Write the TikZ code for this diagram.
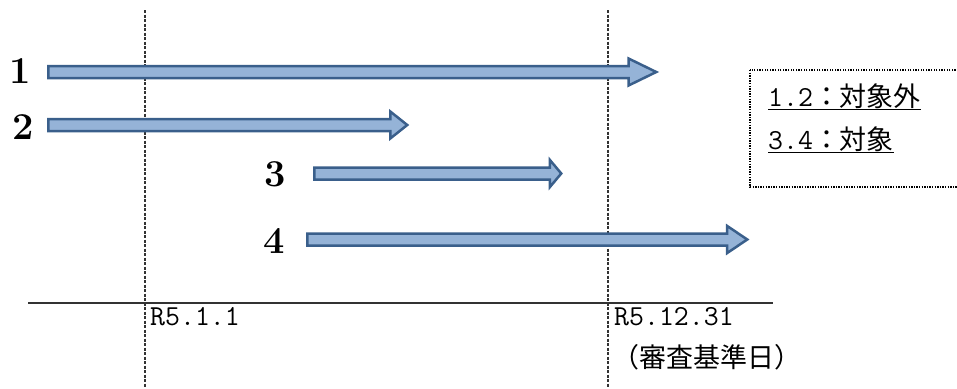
\documentclass[tikz,border=0pt]{standalone}
\usepackage{fontspec}
\newfontfamily\cjk[Scale=0.93]{Noto Sans CJK JP}
\usetikzlibrary{shapes.arrows,positioning}
\definecolor{barfill}{HTML}{95B3D7}
\definecolor{barline}{HTML}{3A5F8B}
\definecolor{guideline}{HTML}{333333}
\tikzset{
  bar/.style={single arrow, draw=barline, fill=barfill, line width=2.5pt,
    inner xsep=0pt, inner ysep=4.75pt, single arrow head extend=7.5pt,
    single arrow head indent=0pt, anchor=tail, single arrow tip angle=#1},
  num/.style={font=\fontsize{38}{42}\selectfont\bfseries},
  datelabel/.style={font=\fontsize{29}{32}\selectfont\ttfamily, inner sep=0pt, anchor=base west},
  guide/.style={guideline, line width=1.3pt, dash pattern=on 3pt off 1.5pt},
}
\begin{document}
\begin{tikzpicture}[x=1pt, y=-1pt]
  \useasboundingbox (0,0) rectangle (957,388);
  % guides
  \draw[guide] (145,10) -- (145,388);
  \draw[guide] (608,10) -- (608,388);
  \draw[guideline, line width=1.3pt] (28,303) -- (773,303);
  % periods
  \node[bar=52, minimum height=608pt] (a1) at (47,72) {};
  \node[bar=77, minimum height=359pt] (a2) at (47,125) {};
  \node[bar=100, minimum height=247pt] (a3) at (313,173.5) {};
  \node[bar=68, minimum height=440pt] (a4) at (306,239.5) {};
  \node[num] (n1) at (20.5,71) {1};
  \node[num] (n2) at (23,127.5) {2};
  \node[num] (n3) at (275,174.5) {3};
  \node[num] (n4) at (274.5,241) {4};
  % dates
  \node[datelabel] (d1) at (150,325) {R5.1.1};
  \node[datelabel] (d2) at (614,325) {R5.12.31};
  \node[datelabel] (d3) at (612,367) {{\cjk （審査基準日）}};
  % legend
  \draw[line width=1.3pt, dash pattern=on 1.3pt off 1.3pt] (750,70) rectangle (962,187);
  \node[datelabel] (k1) at (768,106) {\underline{1.2{\cjk ：対象外}}};
  \node[datelabel] (k2) at (768,149) {\underline{3.4{\cjk ：対象}}};
\end{tikzpicture}
\end{document}
